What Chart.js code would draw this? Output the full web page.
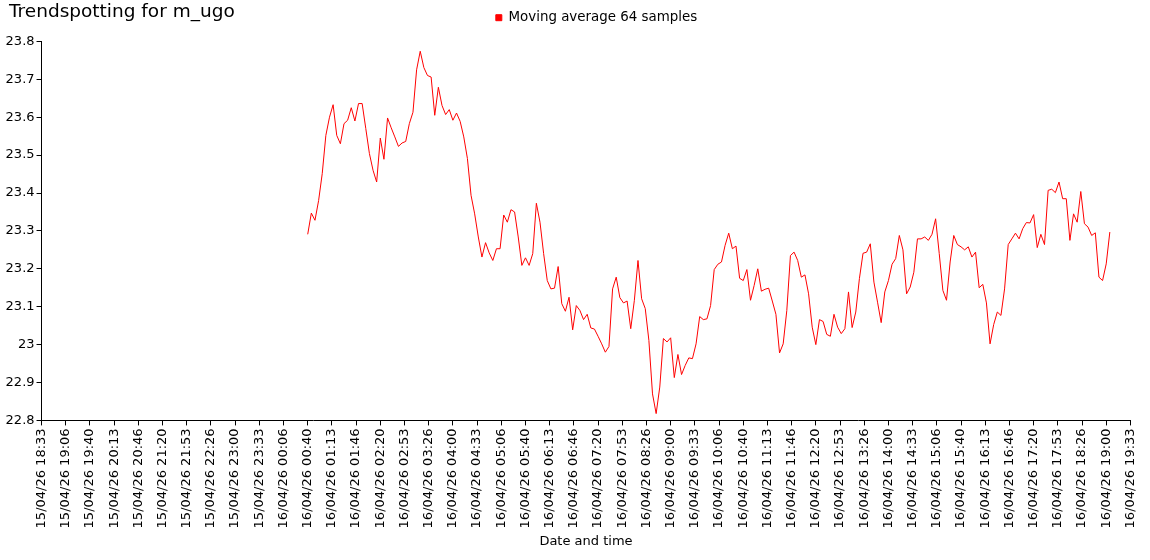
<!DOCTYPE html>
<html>
<head>
<meta charset="utf-8">
<title>Trendspotting for m_ugo</title>
<script src="https://cdn.jsdelivr.net/npm/chart.js@4"></script>
<style>
    html, body { margin: 0; padding: 0; background: #fff; overflow: hidden; }
    #wrap { position: relative; width: 1150px; height: 560px; overflow: hidden; }
    #chart { position: absolute; left: -12px; top: 0; }
</style>
</head>
<body>
<div id="wrap">
    <canvas id="chart" width="1161" height="560"></canvas>
</div>
<script>
// 축 눈금 라벨 (33분 20초 간격)
const tickLabels = [
    '15/04/26 18:33', '15/04/26 19:06', '15/04/26 19:40', '15/04/26 20:13', '15/04/26 20:46',
    '15/04/26 21:20', '15/04/26 21:53', '15/04/26 22:26', '15/04/26 23:00', '15/04/26 23:33',
    '16/04/26 00:06', '16/04/26 00:40', '16/04/26 01:13', '16/04/26 01:46', '16/04/26 02:20',
    '16/04/26 02:53', '16/04/26 03:26', '16/04/26 04:00', '16/04/26 04:33', '16/04/26 05:06',
    '16/04/26 05:40', '16/04/26 06:13', '16/04/26 06:46', '16/04/26 07:20', '16/04/26 07:53',
    '16/04/26 08:26', '16/04/26 09:00', '16/04/26 09:33', '16/04/26 10:06', '16/04/26 10:40',
    '16/04/26 11:13', '16/04/26 11:46', '16/04/26 12:20', '16/04/26 12:53', '16/04/26 13:26',
    '16/04/26 14:00', '16/04/26 14:33', '16/04/26 15:06', '16/04/26 15:40', '16/04/26 16:13',
    '16/04/26 16:46', '16/04/26 17:20', '16/04/26 17:53', '16/04/26 18:26', '16/04/26 19:00',
    '16/04/26 19:33'
];

// 샘플 시작 위치 (눈금 단위, 16/04/26 00:40) 와 샘플 간격 (5분 = 0.15 눈금)
const sampleStart = 11;
const sampleStep = 0.15;

// 이동 평균 값 (64 샘플)
const movingAverage = [
    23.291, 23.347, 23.328, 23.380, 23.451, 23.552, 23.600, 23.633, 23.552, 23.530,
    23.583, 23.592, 23.625, 23.590, 23.636, 23.636, 23.570, 23.504, 23.460, 23.429,
    23.545, 23.489, 23.598, 23.572, 23.548, 23.523, 23.532, 23.536, 23.583, 23.613,
    23.725, 23.774, 23.731, 23.710, 23.706, 23.605, 23.679,
    23.631, 23.607, 23.620, 23.592, 23.611, 23.589, 23.548, 23.491, 23.394, 23.345,
    23.284, 23.231, 23.269, 23.242, 23.222, 23.253, 23.253, 23.342, 23.323, 23.356,
    23.350, 23.284, 23.209, 23.229, 23.209, 23.240, 23.373, 23.323, 23.240, 23.169,
    23.147, 23.149, 23.206, 23.108, 23.088, 23.125, 23.039,
    23.103, 23.090, 23.066, 23.080, 23.044, 23.041, 23.022, 23.002, 22.980, 22.995,
    23.147, 23.178, 23.124, 23.110, 23.115, 23.042, 23.117, 23.222, 23.121, 23.095,
    23.011, 22.870, 22.818, 22.888, 23.016, 23.007, 23.018, 22.913, 22.974, 22.921,
    22.945, 22.965, 22.963, 23.002, 23.074, 23.066, 23.068,
    23.103, 23.198, 23.212, 23.218, 23.262, 23.294, 23.253, 23.260, 23.175, 23.169,
    23.198, 23.117, 23.156, 23.200, 23.141, 23.146, 23.149, 23.115, 23.080, 22.978,
    23.002, 23.090, 23.235, 23.244, 23.222, 23.178, 23.184, 23.134, 23.046, 23.000,
    23.066, 23.061, 23.027, 23.022, 23.080, 23.046, 23.029,
    23.042, 23.139, 23.045, 23.086, 23.174, 23.241, 23.244, 23.266, 23.165, 23.112,
    23.058, 23.139, 23.169, 23.212, 23.227, 23.288, 23.250, 23.134, 23.152, 23.191,
    23.279, 23.279, 23.284, 23.275, 23.291, 23.332, 23.240, 23.143, 23.117, 23.218,
    23.288, 23.264, 23.258, 23.250, 23.258, 23.231, 23.244,
    23.150, 23.159, 23.110, 23.002, 23.053, 23.086, 23.077, 23.147, 23.264, 23.279,
    23.294, 23.279, 23.306, 23.322, 23.321, 23.343, 23.256, 23.291, 23.264, 23.407,
    23.410, 23.401, 23.429, 23.385, 23.385, 23.275, 23.345, 23.323, 23.404, 23.319,
    23.310, 23.288, 23.295, 23.178, 23.169, 23.213, 23.297
];

const FONT = 'DejaVu Sans, Verdana, sans-serif';

// 제목은 범례와 같은 줄에 있으므로 직접 그림
const titlePlugin = {
    id: 'leftTitle',
    afterDraw(chart) {
        const ctx = chart.ctx;
        ctx.save();
        ctx.font = '18.5px ' + FONT;
        ctx.fillStyle = '#000';
        ctx.textBaseline = 'top';
        ctx.textAlign = 'left';
        ctx.fillText('Trendspotting for m_ugo', 21, 3);
        ctx.restore();
    }
};

// 범례 위치 보정 (원본은 가운데보다 조금 오른쪽, 제목과 같은 높이)
const legendShift = {
    id: 'legendShift',
    afterLayout(chart) {
        const lg = chart.legend;
        if (!lg) return;
        lg.left += 35;
        lg.right += 35;
        lg.top -= 7;
        lg.bottom -= 7;
    }
};

const points = movingAverage.map((v, i) => ({ x: sampleStart + i * sampleStep, y: v }));

new Chart(document.getElementById('chart').getContext('2d'), {
    type: 'line',
    data: {
        datasets: [{
            label: 'Moving average 64 samples',
            data: points,
            borderColor: '#ff0000',
            backgroundColor: '#ff0000',
            borderWidth: 1,
            pointRadius: 0,
            tension: 0,
            fill: false
        }]
    },
    options: {
        responsive: false,
        animation: false,
        layout: {
            padding: { top: 8, right: 14, bottom: 11, left: 0 }
        },
        plugins: {
            legend: {
                labels: {
                    boxWidth: 6,
                    boxHeight: 6,
                    color: '#000',
                    padding: 10,
                    font: { family: FONT, size: 13.4 }
                }
            },
            tooltip: { enabled: false }
        },
        scales: {
            x: {
                type: 'linear',
                min: 0,
                max: 45,
                border: { color: '#000', width: 1 },
                grid: { drawOnChartArea: false, color: '#000', tickLength: 5 },
                title: {
                    display: true,
                    text: 'Date and time',
                    color: '#000',
                    font: { family: FONT, size: 13 },
                    padding: { top: 2, bottom: 0 }
                },
                ticks: {
                    stepSize: 1,
                    autoSkip: false,
                    maxRotation: 90,
                    minRotation: 90,
                    padding: 3,
                    color: '#000',
                    font: { family: FONT, size: 13 },
                    callback: value => tickLabels[value]
                }
            },
            y: {
                min: 22.8,
                max: 23.8,
                border: { color: '#000', width: 1 },
                grid: { drawOnChartArea: false, color: '#000', tickLength: 5 },
                title: {
                    display: true,
                    text: '°C',
                    color: '#000',
                    font: { family: FONT, size: 13 },
                    padding: 0
                },
                ticks: {
                    stepSize: 0.1,
                    padding: 2,
                    color: '#000',
                    font: { family: FONT, size: 13 },
                    callback: value => String(parseFloat(value.toFixed(1)))
                }
            }
        }
    },
    plugins: [titlePlugin, legendShift]
});
</script>
</body>
</html>
